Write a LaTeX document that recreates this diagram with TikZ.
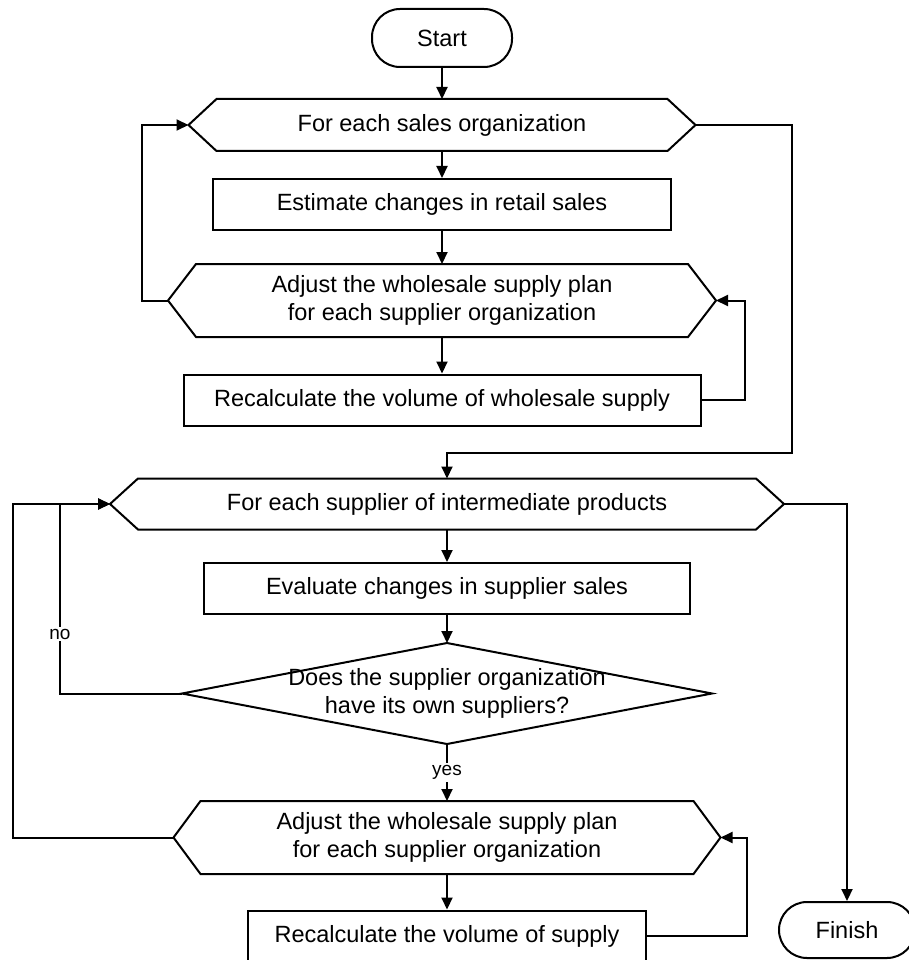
\documentclass[tikz,border=0pt]{standalone}
\usepackage{fontspec}
\setmainfont{Liberation Sans}
\usetikzlibrary{arrows.meta}
\newcommand\hexagonpath[2]{\draw (#1.west) -- ([xshift=#2]#1.north west) -- ([xshift=-#2]#1.north east) -- (#1.east) -- ([xshift=-#2]#1.south east) -- ([xshift=#2]#1.south west) -- cycle;}
\newcommand\diamondpath[1]{\draw (#1.west) -- (#1.north) -- (#1.east) -- (#1.south) -- cycle;}
\begin{document}
\begin{tikzpicture}[x=1pt,y=-1pt,line width=2pt,
  font=\fontsize{23.5}{28}\selectfont,
  term/.style={draw, rounded corners=28pt, minimum width=140pt, minimum height=58pt, inner sep=0pt},
  proc/.style={draw, minimum height=51pt, inner sep=0pt},
  hexbox/.style={inner sep=0pt, outer sep=0pt, align=center},
  arr/.style={-{Triangle[length=12pt,width=11pt]}},
  lbl/.style={fill=white, inner sep=2pt, font=\fontsize{19}{22}\selectfont}]
\useasboundingbox (0,0) rectangle (909,960);
% nodes
\node[term] (start) at (442,38) {Start};
\node[hexbox, minimum width=507pt, minimum height=52pt] (h1) at (442,125) {For each sales organization};
\node[proc, minimum width=458pt] (r1) at (442,204.5) {Estimate changes in retail sales};
\node[hexbox, minimum width=548pt, minimum height=73pt] (h2) at (442,300.5) {Adjust the wholesale supply plan\\for each supplier organization};
\node[proc, minimum width=517pt] (r2) at (442,400) {Recalculate the volume of wholesale supply};
\node[hexbox, minimum width=674pt, minimum height=51pt] (h3) at (447,504) {For each supplier of intermediate products};
\node[proc, minimum width=486pt] (r3) at (447,588.5) {Evaluate changes in supplier sales};
\node[hexbox, minimum width=530pt, minimum height=101pt] (d) at (447,693.5) {Does the supplier organization\\have its own suppliers?};
\node[hexbox, minimum width=547pt, minimum height=73pt] (h4) at (447,837.5) {Adjust the wholesale supply plan\\for each supplier organization};
\node[proc, minimum width=398pt, minimum height=51pt] (r4) at (447,936) {Recalculate the volume of supply};
\node[term, minimum width=136pt, minimum height=56pt] (fin) at (847,930) {Finish};
% outlines
\hexagonpath{h1}{28pt}
\hexagonpath{h2}{28pt}
\hexagonpath{h3}{28pt}
\hexagonpath{h4}{27pt}
\diamondpath{d}
% connectors
\draw[arr] (start.south) -- (h1.north);
\draw[arr] (h1.south) -- (r1.north);
\draw[arr] (r1.south) -- (h2.north);
\draw[arr] (h2.south) -- (r2.north);
\draw[arr] (h2.west) -| ([xshift=-47pt]h1.west) -- (h1.west);
\draw[arr] (r2.east) -- ++(43,0) |- (h2.east);
\draw[arr] (h1.east) -- ++(96,0) |- ([yshift=26pt]h3.north) -- (h3.north);
\draw[arr] (h3.south) -- (r3.north);
\draw[arr] (r3.south) -- (d.north);
\draw[arr] (h4.west) -| ([xshift=-97pt]h3.west) -- (h3.west);
\draw[arr] (d.west) -| node[lbl, pos=0.657] (no) {no} ([xshift=-50pt]h3.west) -- (h3.west);
\draw[arr] (d.south) -- node[lbl] (yes) {yes} (h4.north);
\draw[arr] (h4.south) -- (r4.north);
\draw[arr] (r4.east) -- ++(100,0) |- (h4.east);
\draw[arr] (h3.east) -| (fin.north);
\end{tikzpicture}
\end{document}
